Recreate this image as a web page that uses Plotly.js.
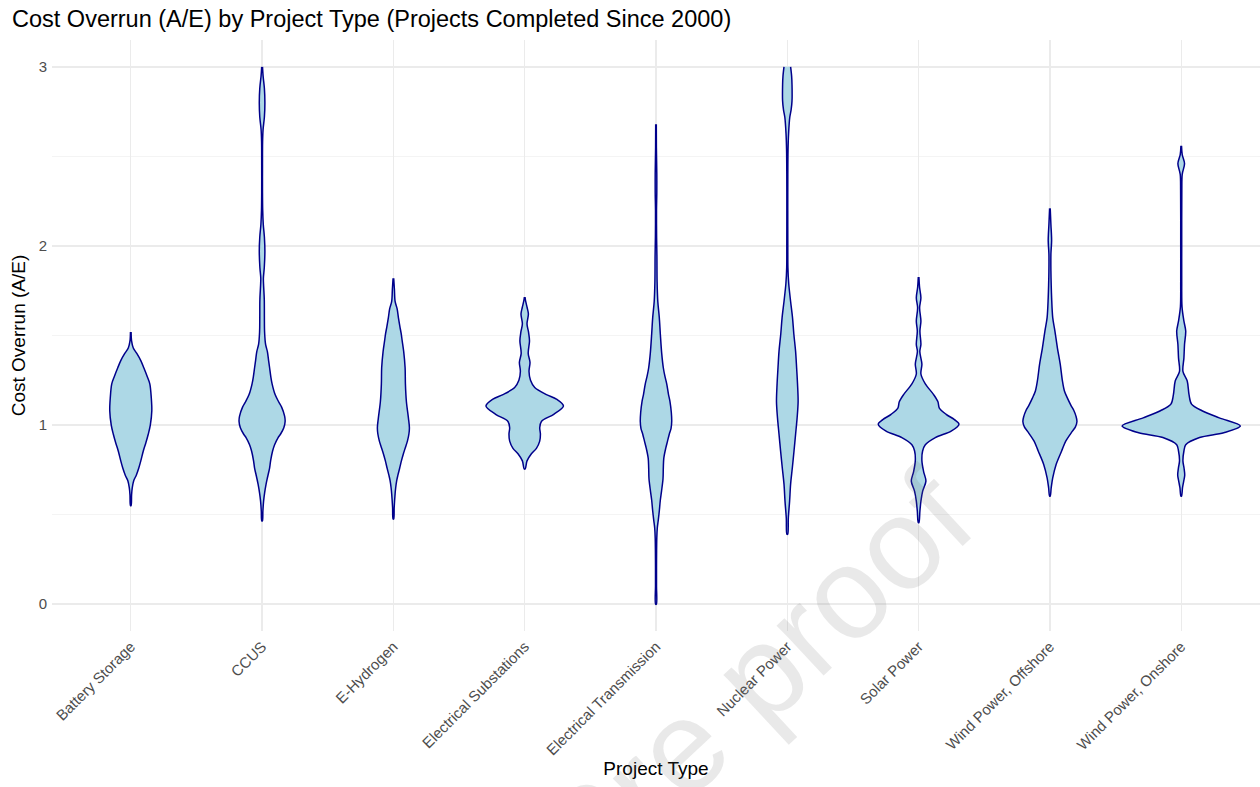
<!DOCTYPE html>
<html>
<head>
<meta charset="utf-8">
<script src="https://cdn.plot.ly/plotly-3.0.1.min.js"></script>
<style>
  html, body { margin: 0; padding: 0; background: #ffffff; }
  #chart { width: 1260px; height: 787px; }
</style>
</head>
<body>
<div id="chart"></div>
<script>
// Project types along the x axis
const categories = [
  "Battery Storage", "CCUS", "E-Hydrogen", "Electrical Substations",
  "Electrical Transmission", "Nuclear Power", "Solar Power",
  "Wind Power, Offshore", "Wind Power, Onshore"
];

// Kernel density profiles of cost overrun (A/E) per project type:
// y = overrun level, d = relative density at that level (same units for all types)
const yBattery = [1.52, 1.47, 1.43, 1.40, 1.36, 1.32, 1.27, 1.23, 1.15, 1.08, 1.00, 0.95, 0.90, 0.855, 0.80, 0.76, 0.72, 0.69, 0.65, 0.61, 0.55];
const dBattery = [0.3, 0.8, 2.5, 6, 10, 13, 16.5, 19, 20.5, 21, 19.5, 17.5, 15, 12.5, 10, 8, 5.5, 3, 1.5, 0.8, 0.3];

const yCCUS = [3.00, 2.95, 2.88, 2.80, 2.72, 2.65, 2.58, 2.45, 2.30, 2.20, 2.12, 2.05, 1.97, 1.88, 1.82, 1.78, 1.70, 1.60, 1.52, 1.45, 1.41, 1.36, 1.32, 1.27, 1.23, 1.17, 1.13, 1.10, 1.05, 1.02, 0.985, 0.95, 0.93, 0.89, 0.855, 0.80, 0.76, 0.71, 0.67, 0.62, 0.575, 0.52, 0.465];
const dCCUS = [0.4, 1, 2.3, 2.8, 2.3, 1, 0.5, 0.4, 0.4, 0.6, 1.2, 2.3, 2.8, 2.2, 1.3, 1.5, 2.2, 2.3, 2.5, 3.5, 5.3, 6.5, 7.5, 8.7, 10, 13, 16.5, 19.5, 22.5, 23, 21.7, 18.5, 16, 12.5, 10.5, 8.5, 7.5, 5.5, 4, 2.5, 1.5, 0.8, 0.3];

const yHydrogen = [1.82, 1.76, 1.69, 1.65, 1.60, 1.55, 1.51, 1.47, 1.41, 1.32, 1.23, 1.13, 1.04, 0.985, 0.95, 0.91, 0.875, 0.84, 0.80, 0.76, 0.72, 0.69, 0.65, 0.615, 0.54, 0.475];
const dHydrogen = [0.3, 1, 1.7, 3.7, 5, 6.5, 7.8, 8.8, 10.3, 11.7, 12, 13, 15, 16, 15.5, 14, 12, 10, 8, 6.3, 4.5, 3.3, 2.3, 1.7, 0.8, 0.3];

const ySubstations = [1.715, 1.69, 1.655, 1.62, 1.565, 1.52, 1.47, 1.40, 1.35, 1.30, 1.25, 1.21, 1.17, 1.145, 1.106, 1.06, 1.02, 0.985, 0.95, 0.91, 0.87, 0.84, 0.80, 0.755];
const dSubstations = [0.3, 1, 2.5, 3.7, 2.3, 3.8, 4.8, 3.5, 5.3, 4.3, 5.8, 10, 21.7, 31.7, 38.7, 29, 16.7, 15, 15.7, 15, 11.7, 6.7, 2.3, 0.5];

const yTransmission = [2.68, 2.55, 2.40, 2.30, 2.20, 2.05, 1.95, 1.80, 1.69, 1.60, 1.51, 1.40, 1.32, 1.27, 1.23, 1.17, 1.13, 1.07, 1.02, 0.98, 0.95, 0.91, 0.87, 0.815, 0.76, 0.70, 0.63, 0.58, 0.52, 0.47, 0.425, 0.37, 0.30, 0.20, 0.10, 0.00];
const dTransmission = [0.3, 0.4, 0.8, 0.8, 0.5, 0.6, 0.9, 1.1, 1.8, 3.3, 4.3, 5.7, 7.3, 9, 10.7, 12.5, 14, 15.3, 15.7, 15, 13.3, 11.5, 9.7, 7.8, 7.3, 7, 5.5, 4.3, 3.3, 2.3, 1.3, 0.8, 0.6, 0.5, 0.5, 0.4];

const yNuclear = [3.00, 2.95, 2.90, 2.81, 2.76, 2.72, 2.63, 2.53, 2.40, 2.20, 2.00, 1.88, 1.79, 1.69, 1.60, 1.51, 1.41, 1.32, 1.23, 1.13, 1.04, 0.95, 0.855, 0.76, 0.67, 0.575, 0.48, 0.39];
const dNuclear = [3.3, 4.3, 4.7, 4.7, 3.8, 2.5, 1.3, 0.7, 0.5, 0.45, 0.5, 0.6, 1.4, 3.3, 5.2, 6.5, 8.3, 9.3, 10.2, 10.8, 9.8, 8.3, 6.7, 5, 3.3, 2.3, 1, 0.4];

const ySolar = [1.827, 1.767, 1.711, 1.655, 1.58, 1.525, 1.45, 1.41, 1.34, 1.285, 1.23, 1.17, 1.13, 1.095, 1.06, 1.03, 1.005, 0.966, 0.93, 0.89, 0.855, 0.80, 0.74, 0.687, 0.63, 0.575, 0.52, 0.455];
const dSolar = [0.3, 1, 2.3, 1, 2.3, 1.3, 2.3, 1.2, 3.3, 2.3, 6.7, 15, 19.3, 20.7, 27.5, 35.8, 40.3, 32.5, 16.7, 6.7, 4, 3.3, 5, 7.3, 4, 2.3, 1.3, 0.3];

const yOffshore = [2.21, 2.12, 2.03, 1.955, 1.86, 1.78, 1.71, 1.60, 1.525, 1.43, 1.34, 1.246, 1.19, 1.15, 1.11, 1.08, 1.05, 1.02, 0.99, 0.966, 0.91, 0.855, 0.78, 0.705, 0.65, 0.603];
const dOffshore = [0.3, 1, 1.7, 1, 1, 1.3, 1.7, 2.8, 5, 7.5, 10.3, 12.5, 14.5, 17.5, 21, 24, 26, 27, 25.5, 22.5, 15.8, 11.7, 6.2, 2.8, 1.3, 0.3];

const yOnshore = [2.56, 2.51, 2.46, 2.40, 2.31, 2.00, 1.80, 1.66, 1.58, 1.525, 1.45, 1.375, 1.30, 1.246, 1.17, 1.117, 1.08, 1.04, 0.995, 0.957, 0.93, 0.89, 0.855, 0.80, 0.76, 0.72, 0.687, 0.65, 0.603];
const dOnshore = [0.3, 1, 3.3, 1, 0.6, 0.5, 0.5, 0.8, 2.7, 4.5, 3.3, 2.7, 1.7, 6, 7.8, 10.3, 20.8, 38, 59, 42.5, 18.3, 4.5, 2.7, 1.7, 2.8, 3.5, 2.5, 1.3, 0.3];

const levels = [yBattery, yCCUS, yHydrogen, ySubstations, yTransmission, yNuclear, ySolar, yOffshore, yOnshore];
const densities = [dBattery, dCCUS, dHydrogen, dSubstations, dTransmission, dNuclear, dSolar, dOffshore, dOnshore];

// Violins share one density scale: the widest one spans 0.9 of a category slot
const maxDensity = Math.max(...densities.map(d => Math.max(...d)));
const halfSlot = 0.45;

const traces = categories.map((name, i) => {
  const ys = levels[i];
  const ws = densities[i].map(d => d / maxDensity * halfSlot);
  const right = ys.map((y, k) => i + ws[k]);
  const left = ys.map((y, k) => i - ws[k]).reverse();
  return {
    type: "scatter",
    mode: "lines",
    name: name,
    x: right.concat(left),
    y: ys.concat(ys.slice().reverse()),
    fill: "toself",
    fillcolor: "#add8e6",
    line: { color: "#00008b", width: 1.5, shape: "spline", smoothing: 0.9 },
    hoverinfo: "skip",
    showlegend: false
  };
});

const fontFamily = "Liberation Sans, Arial, sans-serif";
const tickFont = { family: fontFamily, size: 15, color: "#4d4d4d" };
const titleFont = { family: fontFamily, size: 19, color: "#000000" };

const layout = {
  width: 1260,
  height: 787,
  paper_bgcolor: "#ffffff",
  plot_bgcolor: "#ffffff",
  margin: { l: 52, r: 0, t: 40, b: 156, pad: 0 },
  title: {
    text: "Cost Overrun (A/E) by Project Type (Projects Completed Since 2000)",
    font: { family: fontFamily, size: 23.5, color: "#000000" },
    xref: "container", x: 12 / 1260, xanchor: "left",
    yref: "container", y: 1 - 19 / 787, yanchor: "middle"
  },
  xaxis: {
    range: [-0.6, 8.6],
    tickmode: "array",
    tickvals: categories.map((c, i) => i),
    ticktext: categories,
    tickangle: -45,
    tickfont: tickFont,
    ticklabelstandoff: 3,
    ticks: "",
    showgrid: true,
    gridcolor: "#ebebeb",
    gridwidth: 1.3,
    zeroline: false,
    showline: false,
    fixedrange: true,
    title: { text: "Project Type", font: titleFont, standoff: 4 }
  },
  yaxis: {
    range: [-0.15, 3.15],
    tickmode: "linear",
    tick0: 0,
    dtick: 1,
    tickfont: tickFont,
    ticklabelstandoff: 4,
    ticks: "",
    showgrid: true,
    gridcolor: "#ebebeb",
    gridwidth: 1.3,
    minor: { dtick: 0.5, tick0: 0, showgrid: true, gridcolor: "#f1f1f1", gridwidth: 0.8 },
    zeroline: false,
    showline: false,
    fixedrange: true,
    title: { text: "Cost Overrun (A/E)", font: titleFont, standoff: 8 }
  },
  annotations: [{
    text: "Pre proof",
    xref: "paper", yref: "paper",
    x: 0.582, y: -0.0795,
    xanchor: "center", yanchor: "middle",
    showarrow: false,
    textangle: -43,
    font: { family: fontFamily, size: 130, color: "rgba(110,110,110,0.15)" }
  }]
};

Plotly.newPlot("chart", traces, layout, { displayModeBar: false, staticPlot: true });
</script>
</body>
</html>
